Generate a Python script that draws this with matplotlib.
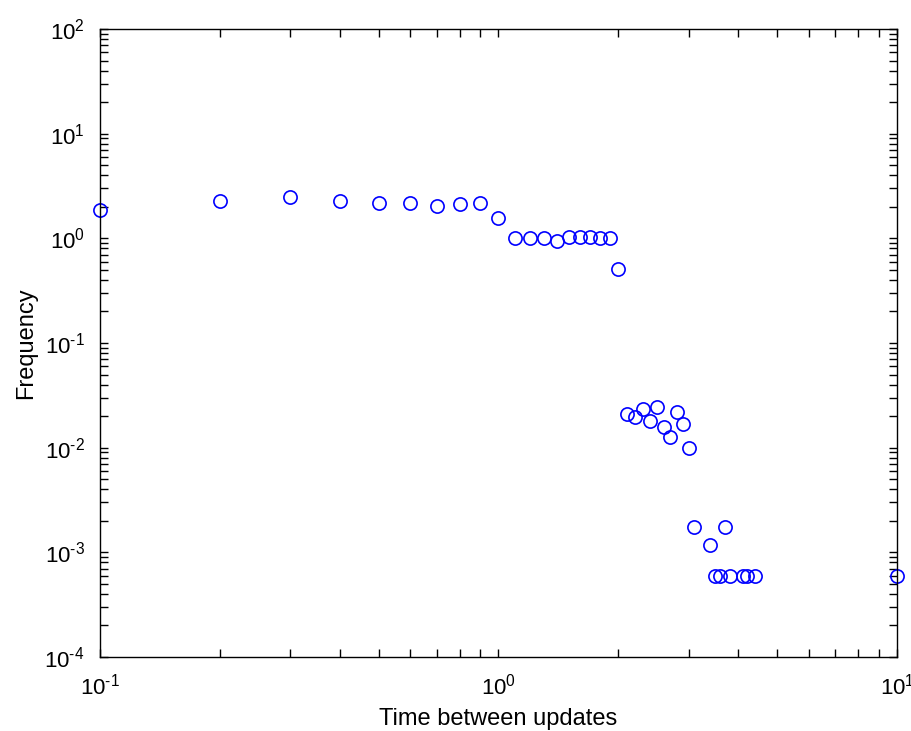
import matplotlib
matplotlib.use("Agg")
import matplotlib.pyplot as plt
import numpy as np
from matplotlib.ticker import LogLocator, FuncFormatter, NullFormatter

plt.rcParams['font.family'] = ['Liberation Sans', 'DejaVu Sans']
plt.rcParams['mathtext.fontset'] = 'custom'
plt.rcParams['mathtext.rm'] = 'Liberation Sans'

# interval between updates (s) and how often it occurs
update_times = [0.1, 0.2, 0.3, 0.4, 0.5, 0.6, 0.7, 0.8, 0.9, 1.0,
                1.1, 1.2, 1.3, 1.4, 1.5, 1.6, 1.7, 1.8, 1.9, 2.0,
                2.1, 2.2, 2.3, 2.4, 2.5, 2.6, 2.7, 2.8, 2.9, 3.0,
                3.1, 3.4, 3.7,
                3.5, 3.6, 3.8, 4.1, 4.2, 4.4, 10.0]
frequency = [1.87, 2.28, 2.46, 2.28, 2.17, 2.17, 2.05, 2.12, 2.17, 1.55,
             1.0, 1.0, 1.0, 0.95, 1.04, 1.04, 1.03, 1.0, 1.0, 0.505,
             0.0208, 0.0198, 0.0233, 0.0180, 0.0246, 0.0159, 0.0126, 0.0221, 0.0168, 0.0100,
             0.00176, 0.00117, 0.00176,
             0.000594, 0.000594, 0.000594, 0.000594, 0.000594, 0.000594, 0.000594]


def power_label(val, pos):
    # 10^n with a plain hyphen in the exponent
    n = int(round(np.log10(val)))
    if n < 0:
        return r'$10^{\text{-}%d}$' % (-n)
    return r'$10^{%d}$' % n


fig = plt.figure(figsize=(9.12, 7.31), dpi=100)
ax = fig.add_axes([100 / 912, 74 / 731, 797 / 912, 628 / 731])

ax.plot(update_times, frequency, 'o', ms=9.5, mfc='none', mec='#0000ff', mew=1.2, clip_on=False)

ax.set_xscale('log')
ax.set_yscale('log')
ax.set_xlim(0.1, 10)
ax.set_ylim(1e-4, 1e2)

ax.xaxis.set_major_locator(LogLocator(base=10, numticks=10))
ax.yaxis.set_major_locator(LogLocator(base=10, numticks=10))
ax.xaxis.set_minor_locator(LogLocator(base=10, subs=range(2, 10), numticks=20))
ax.yaxis.set_minor_locator(LogLocator(base=10, subs=range(2, 10), numticks=20))
ax.xaxis.set_major_formatter(FuncFormatter(power_label))
ax.yaxis.set_major_formatter(FuncFormatter(power_label))
ax.xaxis.set_minor_formatter(NullFormatter())
ax.yaxis.set_minor_formatter(NullFormatter())

ax.tick_params(which='both', direction='in', top=True, right=True,
               length=6, width=1, color='black')
ax.tick_params(axis='x', which='major', labelsize=16, pad=12)
ax.tick_params(axis='y', which='major', labelsize=16, pad=11)
for sp in ax.spines.values():
    sp.set_linewidth(1)
    sp.set_color('black')

ax.set_xlabel('Time between updates', fontsize=17, labelpad=6)
ax.set_ylabel('Frequency', fontsize=17, labelpad=5)

fig.savefig('out.png', dpi=100, facecolor='white')
